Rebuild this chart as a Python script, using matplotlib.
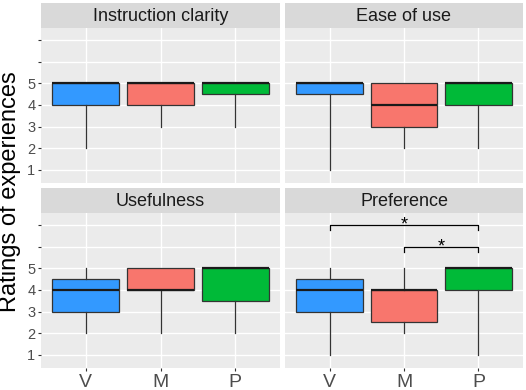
import matplotlib
matplotlib.use("Agg")
import matplotlib.pyplot as plt

plt.rcParams['font.family'] = ['Liberation Sans', 'DejaVu Sans']

panels = ["Instruction clarity", "Ease of use", "Usefulness", "Preference"]
categories = ["V", "M", "P"]
colors = ["#3399FF", "#F8766D", "#00BA38"]
y_ticks = [1, 2, 3, 4, 5, 6, 7]
y_tick_labels = ["1", "2", "3", "4", "5", "", ""]

# five-number summaries per panel: [V, M, P]
whislo = {"Instruction clarity": [2, 3, 3], "Ease of use": [1, 2, 2],
          "Usefulness": [2, 2, 2], "Preference": [1, 2, 1]}
q1 = {"Instruction clarity": [4, 4, 4.5], "Ease of use": [4.5, 3, 4],
      "Usefulness": [3, 4, 3.5], "Preference": [3, 2.5, 4]}
med = {"Instruction clarity": [5, 5, 5], "Ease of use": [5, 4, 5],
       "Usefulness": [4, 4, 5], "Preference": [4, 4, 5]}
q3 = {"Instruction clarity": [5, 5, 5], "Ease of use": [5, 5, 5],
      "Usefulness": [4.5, 5, 5], "Preference": [4.5, 4, 5]}
whishi = {"Instruction clarity": [5, 5, 5], "Ease of use": [5, 5, 5],
          "Usefulness": [5, 5, 5], "Preference": [5, 5, 5]}

# significance brackets in "Preference": (from, to, height)
sig_from = ["V", "M"]
sig_to = ["P", "P"]
sig_y = [7.0, 6.0]
sig_label = ["*", "*"]

W, H = 526, 390
fig = plt.figure(figsize=(W / 100, H / 100), dpi=100)

def fc(x0, y0, x1, y1):
    return [x0 / W, 1 - y1 / H, (x1 - x0) / W, (y1 - y0) / H]

col_x = [(41, 280), (285, 523)]
row_y = [(3, 28, 183), (188, 213, 368)]

for i, name in enumerate(panels):
    r, c = divmod(i, 2)
    x0, x1 = col_x[c]
    s0, p0, p1 = row_y[r]
    # strip
    sax = fig.add_axes(fc(x0, s0, x1, p0))
    sax.set_facecolor("#D9D9D9")
    sax.set_xticks([]); sax.set_yticks([])
    for sp in sax.spines.values():
        sp.set_visible(False)
    sax.text(0.5, 0.45, name, ha="center", va="center", fontsize=13,
             color="#1A1A1A", transform=sax.transAxes)
    # panel
    ax = fig.add_axes(fc(x0, p0, x1, p1))
    ax.set_facecolor("#EBEBEB")
    for sp in ax.spines.values():
        sp.set_visible(False)
    stats = []
    for k, cat in enumerate(categories):
        stats.append(dict(label=cat, whislo=whislo[name][k], q1=q1[name][k],
                          med=med[name][k], q3=q3[name][k], whishi=whishi[name][k],
                          fliers=[]))
    pos = list(range(1, len(categories) + 1))
    bp = ax.bxp(stats, positions=pos, widths=0.9, patch_artist=True,
                showfliers=False, showcaps=False,
                boxprops=dict(edgecolor="#333333", linewidth=0.9),
                whiskerprops=dict(color="#333333", linewidth=0.9),
                medianprops=dict(color="#1A1A1A", linewidth=1.6, solid_capstyle="butt"),
                zorder=3)
    for patch, colr in zip(bp["boxes"], colors):
        patch.set_facecolor(colr)
    ax.set_xlim(0.4, 3.6)
    ax.set_ylim(0.4, 7.55)
    ax.set_yticks(y_ticks)
    ax.set_xticks(pos)
    ax.grid(True, color="white", linewidth=1.0, zorder=0)
    ax.set_axisbelow(True)
    ax.tick_params(axis="both", color="#333333", length=2.5, width=0.8)
    if c == 0:
        ax.set_yticklabels(y_tick_labels, fontsize=10.5, color="#4D4D4D")
        ax.tick_params(axis="y", pad=1.5)
    else:
        ax.tick_params(axis="y", length=0, labelleft=False)
    if r == 1:
        ax.set_xticklabels(categories, fontsize=14, color="#4D4D4D")
        ax.tick_params(axis="x", pad=2)
    else:
        ax.tick_params(axis="x", length=0, labelbottom=False)
    if name == "Preference":
        for a, b, yy, lab in zip(sig_from, sig_to, sig_y, sig_label):
            xa = categories.index(a) + 1
            xb = categories.index(b) + 1
            ax.plot([xa, xa, xb, xb], [yy - 0.25, yy, yy, yy - 0.25],
                    color="black", linewidth=0.9, zorder=4)
            ax.text((xa + xb) / 2, yy - 0.22, lab, ha="center", va="baseline",
                    fontsize=13, color="black", zorder=4)

fig.text(10 / W, 1 - 192 / H, "Ratings of experiences", rotation=90,
         ha="center", va="center", fontsize=17, color="black")

fig.savefig("out.png", dpi=100)
